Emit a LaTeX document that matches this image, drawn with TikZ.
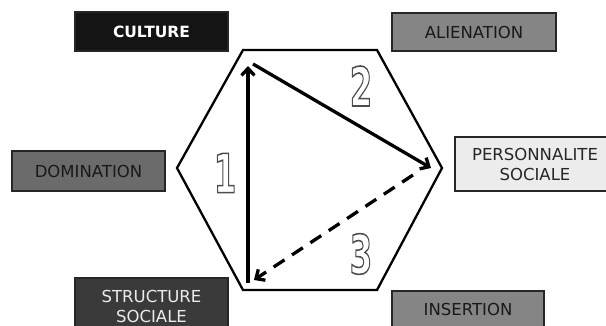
\documentclass[tikz,border=0pt]{standalone}
\usepackage{fontspec}
\setmainfont{DejaVu Sans}
\usetikzlibrary{arrows.meta}
\definecolor{cultfill}{HTML}{141414}
\definecolor{alienfill}{HTML}{858585}
\definecolor{persfill}{HTML}{ECECEC}
\definecolor{domfill}{HTML}{6B6B6B}
\definecolor{structfill}{HTML}{3A3A3A}
\newcommand{\bigdigit}[1]{\scalebox{0.6}[1]{\fontsize{54}{54}\selectfont\bfseries\special{pdf:literal direct 1 Tr 1.6 w 0.3 G}#1\special{pdf:literal direct 0 Tr}}}
\begin{document}
\begin{tikzpicture}[x=1pt,y=-1pt,
  box/.style={draw=black!85, line width=1.5pt, align=center, inner sep=0pt,
    font=\fontsize{16.5}{20}\selectfont},
  hexline/.style={line width=2.3pt, line join=miter},
  flow/.style={line width=3.3pt, -{Straight Barb[length=7pt,width=13pt,line width=3.3pt]}},
  flowdash/.style={flow, dash pattern=on 13pt off 9pt},
  digit/.style={inner sep=0pt}]
\useasboundingbox (0,0) rectangle (606,326);
% boxes
\node[box, fill=cultfill, text=white, minimum width=153pt, minimum height=39pt,
  font=\fontsize{15.5}{20}\selectfont\bfseries] (cult) at (151.5,31.5) {CULTURE};
\node[box, fill=alienfill, text=black!90, minimum width=164pt, minimum height=38pt] (alien) at (474,32) {ALIENATION};
\node[box, fill=persfill, text=black!85, minimum width=160pt, minimum height=54pt] (pers) at (535,164) {PERSONNALITE\\SOCIALE};
\node[box, fill=domfill, text=black!90, minimum width=153pt, minimum height=40pt] (dom) at (88.5,171) {DOMINATION};
\node[box, fill=structfill, text=white!92!black, minimum width=153pt, minimum height=56pt] (struct) at (151.5,306) {STRUCTURE\\SOCIALE};
\node[box, fill=alienfill, text=black!90, minimum width=152pt, minimum height=37pt] (ins) at (468,309.5) {INSERTION};
% hexagon
\coordinate (h1) at (243,50);
\coordinate (h2) at (377,50);
\coordinate (h3) at (442,168);
\coordinate (h4) at (377,290);
\coordinate (h5) at (243,290);
\coordinate (h6) at (177,168);
\draw[hexline] (h1) -- (h2) -- (h3) -- (h4) -- (h5) -- (h6) -- cycle;
% triangle arrows
\coordinate (a1s) at (248,283);
\coordinate (a1e) at (248,66);
\coordinate (a2s) at (253,64);
\coordinate (a2e) at (431,168);
\coordinate (a3s) at (413,175);
\coordinate (a3e) at (254,280);
\draw[flow] (a1s) -- (a1e);
\draw[flow] (a2s) -- (a2e);
\draw[flowdash] (a3s) -- (a3e);
% digits
\node[digit] (d1) at (225,173) {\bigdigit{1}};
\node[digit] (d2) at (361,86) {\bigdigit{2}};
\node[digit] (d3) at (361,254) {\bigdigit{3}};
\end{tikzpicture}
\end{document}
